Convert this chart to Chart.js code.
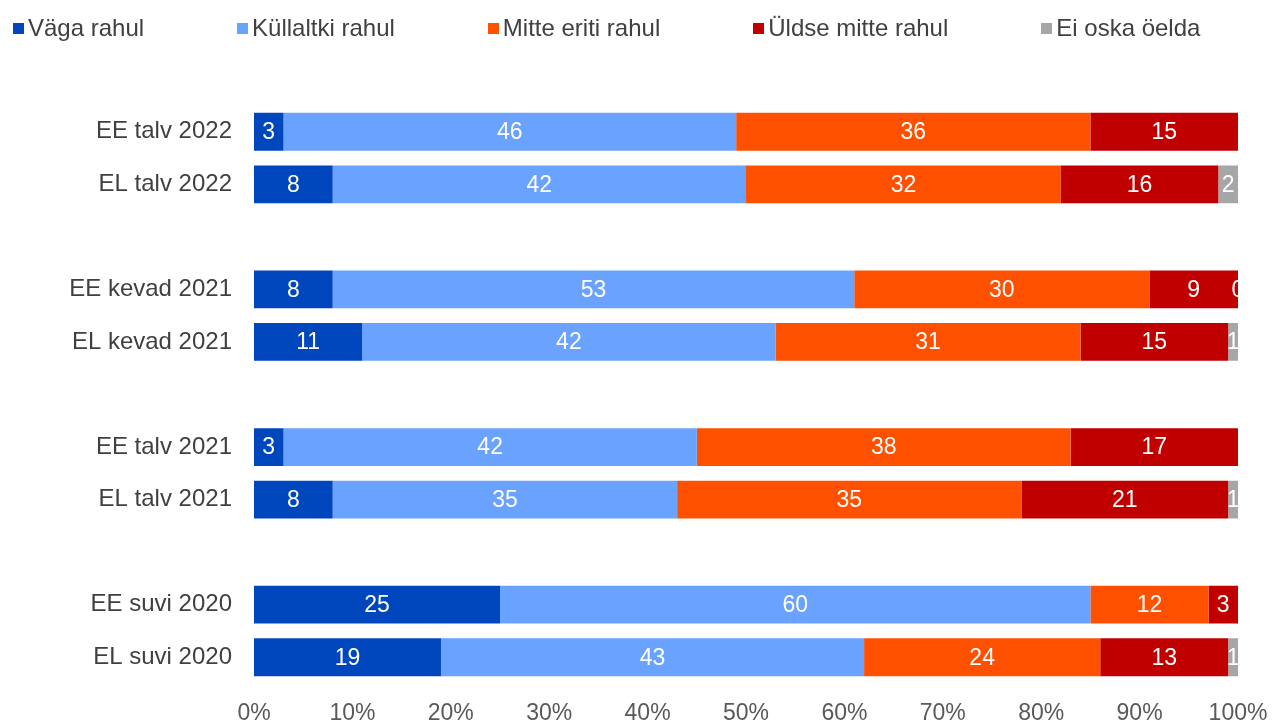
<!DOCTYPE html>
<html>
<head>
<meta charset="utf-8">
<script src="https://cdn.jsdelivr.net/npm/chart.js@4.4.1/dist/chart.umd.min.js"></script>
<style>
  html, body { margin: 0; padding: 0; background: #fff; overflow: hidden; }
  #wrap { position: relative; width: 1273px; height: 720px; overflow: hidden; }
  #chart { position: absolute; left: 0; top: 0; }
  #legend { position: absolute; left: 13px; top: 14px; display: flex; gap: 93px;
            font: 24px "Liberation Sans", Arial, sans-serif; color: #404040; white-space: nowrap; }
  .item { display: flex; align-items: center; }
  .box { width: 11px; height: 11px; margin-right: 4px; }
</style>
</head>
<body>
<div id="wrap">
  <canvas id="chart" width="1273" height="747"></canvas>
  <div id="legend"></div>
</div>
<script>
// empty labels make the gaps between the survey pairs
const categories = ['EE talv 2022', 'EL talv 2022', '', 'EE kevad 2021', 'EL kevad 2021', '',
                    'EE talv 2021', 'EL talv 2021', '', 'EE suvi 2020', 'EL suvi 2020'];
const seriesNames = ['Väga rahul', 'Küllaltki rahul', 'Mitte eriti rahul', 'Üldse mitte rahul', 'Ei oska öelda'];
const vagaRahul  = [3, 8, null, 8, 11, null, 3, 8, null, 25, 19];
const kullaltki  = [46, 42, null, 53, 42, null, 42, 35, null, 60, 43];
const mitteEriti = [36, 32, null, 30, 31, null, 38, 35, null, 12, 24];
const uldseMitte = [15, 16, null, 9, 15, null, 17, 21, null, 3, 13];
const eiOska     = [null, 2, null, 0, 1, null, null, 1, null, null, 1];
const xTicks = [0, 10, 20, 30, 40, 50, 60, 70, 80, 90, 100];

const colors = ['#0047BD', '#6AA2FF', '#FF5000', '#C00000', '#A6A6A6'];
const FONT = '"Liberation Sans", Arial, sans-serif';
Chart.defaults.font.family = FONT;
Chart.defaults.font.size = 23;

// legend
document.getElementById('legend').innerHTML = seriesNames.map((n, i) =>
  `<div class="item"><span class="box" style="background:${colors[i]}"></span>${n}</div>`).join('');

// white value labels in the middle of each segment
const valueLabels = {
  id: 'valueLabels',
  afterDatasetsDraw(chart) {
    const { ctx, chartArea } = chart;
    ctx.save();
    ctx.beginPath();
    ctx.rect(chartArea.left, chartArea.top - 30, chartArea.width + 1, chartArea.height + 60);
    ctx.clip();
    ctx.font = '23px ' + FONT;
    ctx.fillStyle = '#fff';
    ctx.textAlign = 'center';
    ctx.textBaseline = 'middle';
    chart.data.datasets.forEach((ds, i) => {
      chart.getDatasetMeta(i).data.forEach((bar, j) => {
        const v = ds.data[j];
        if (v === null || v === undefined) return;
        const p = bar.getCenterPoint();
        ctx.fillText(String(v), p.x, p.y + 1);
      });
    });
    ctx.restore();
  }
};

const values = [vagaRahul, kullaltki, mitteEriti, uldseMitte, eiOska];

new Chart(document.getElementById('chart'), {
  type: 'bar',
  data: {
    labels: categories,
    datasets: values.map((d, i) => ({ label: seriesNames[i], data: d, backgroundColor: colors[i], borderWidth: 0 }))
  },
  options: {
    indexAxis: 'y',
    responsive: false,
    animation: false,
    layout: { padding: { top: 105.5, right: 35, bottom: 3.9, left: 0 } },
    datasets: { bar: { barPercentage: 0.72, categoryPercentage: 1 } },
    plugins: { legend: { display: false }, tooltip: { enabled: false } },
    scales: {
      x: {
        stacked: true, min: 0, max: 100,
        afterBuildTicks: s => { s.ticks = xTicks.map(v => ({ value: v })); },
        ticks: { callback: v => v + '%', padding: 16, color: '#595959', maxRotation: 0 },
        grid: { display: false, drawTicks: false },
        border: { display: false },
        afterFit: s => { s.paddingRight = 0; s.paddingLeft = 0; }
      },
      y: {
        stacked: true,
        ticks: { padding: 22, color: '#404040', font: { size: 24 } },
        grid: { display: false, drawTicks: false },
        border: { display: false },
        afterFit: s => { s.width = 254; }
      }
    }
  },
  plugins: [valueLabels]
});
</script>
</body>
</html>
